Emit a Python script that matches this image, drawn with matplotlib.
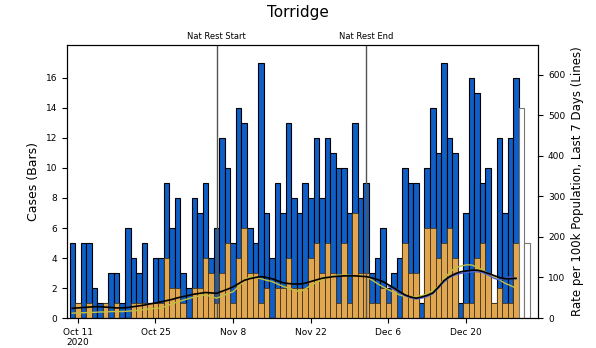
import matplotlib
matplotlib.use('Agg')
import matplotlib.pyplot as plt
import matplotlib.dates as mdates
import numpy as np
import datetime as dt

# daily cases, Oct 10 .. Dec 29 2020
cases = [5, 1, 5, 5, 2, 1, 1, 3, 3, 1, 6, 4, 3, 5, 1, 4, 4, 9, 6, 8, 3, 2,
         8, 7, 9, 4, 6, 12, 10, 5, 14, 13, 6, 5, 17, 7, 4, 9, 7, 13, 8, 7, 9, 8,
         12, 8, 12, 11, 10, 10, 7, 13,
         8, 9, 3, 4, 6, 2, 3, 4, 10, 9, 9, 1, 10, 14, 11, 17, 12, 11, 1, 7, 16,
         15, 9, 10, 1, 12, 7, 12, 16]
cases_other = [0, 1, 0, 1, 0, 0, 1, 0, 1, 0, 0, 1, 1, 1, 1, 1, 1, 4, 2, 2, 1, 0,
               2, 2, 4, 3, 1, 3, 5, 1, 4, 6, 3, 3, 1, 2, 0, 2, 2, 4, 2, 2, 2, 4,
               5, 3, 5, 3, 1, 5, 1, 7,
               3, 3, 1, 1, 2, 1, 2, 0, 5, 3, 3, 0, 6, 6, 4, 5, 6, 4, 0, 1, 1,
               4, 5, 3, 1, 2, 1, 1, 5]
# incomplete days, Dec 30 .. Dec 31
cases_incomplete = [14, 5]

rate = [24, 25, 26, 27, 28, 28, 27, 26, 25, 25, 26, 28, 30, 32, 35, 37, 40, 43,
        46, 50, 53, 56,
        59, 61, 63, 62, 61, 66, 71, 77, 85, 93, 97, 100, 102, 100, 97, 92, 87,
        85, 84, 84, 86, 90, 94, 98, 100, 102, 103, 104, 104, 104,
        103, 102, 99, 95, 90, 82, 74, 65, 57, 52, 49, 52, 56, 62, 76, 92, 102,
        109, 114, 116, 118, 118, 115, 110, 105, 100, 97, 97, 98]
rate_other = [12, 13, 13, 14, 14, 15, 15, 16, 16, 16, 17, 18, 19, 21, 23, 24, 25,
              30, 35, 40, 44, 48,
              52, 55, 57, 53, 49, 54, 60, 65, 78, 92, 102, 100, 97, 93, 90, 84,
              78, 74, 69, 65, 72, 80, 88, 94, 100, 104, 106, 106, 105, 104,
              103, 102, 94, 85, 77, 70, 63, 57, 53, 52, 53, 55, 60, 68, 77, 95,
              112, 123, 128, 131, 131, 125, 118, 110, 102, 94, 86, 80, 74]
# Dec 6 .. Dec 29
rate_blue = [78, 70, 62, 55, 50, 47, 49, 53, 60, 74, 89, 100, 106, 110, 112,
             114, 114, 112, 106, 98, 94, 98, 102, 96]

start = dt.date(2020, 10, 10)
days = [start + dt.timedelta(days=i) for i in range(len(cases))]
days_inc = [days[-1] + dt.timedelta(days=i + 1) for i in range(len(cases_incomplete))]
days_blue = [dt.date(2020, 12, 6) + dt.timedelta(days=i) for i in range(len(rate_blue))]

fig = plt.figure(figsize=(5.96, 3.48), dpi=100)
ax = fig.add_axes([0.112, 0.086, 0.791, 0.785])
ax2 = ax.twinx()

ax.bar(days, cases, width=1.0, color='#0f5fc6', edgecolor='black', linewidth=0.8)
ax.bar(days, cases_other, width=1.0, color='#e0a650', edgecolor='#3a2a10', linewidth=0.5)
ax.bar(days_inc, cases_incomplete, width=1.0, color='white', edgecolor='#777777', linewidth=0.8)

ax2.plot(days, rate_other, color='#c2c040', linewidth=1.0)
ax2.plot(days_blue, rate_blue, color='#4f63d0', linewidth=1.0)
ax2.plot(days, rate, color='black', linewidth=1.2)

for d, lab in [(dt.date(2020, 11, 5), 'Nat Rest Start'), (dt.date(2020, 12, 2), 'Nat Rest End')]:
    ax.axvline(d, color='#555555', linewidth=1.0)
    ax.text(d, 18.45, lab, ha='center', va='bottom', fontsize=6)

ax.set_xlim(dt.date(2020, 10, 9) + dt.timedelta(hours=2), dt.date(2021, 1, 2))
ax.set_ylim(0, 18.2)
ax2.set_ylim(0, 673)
ax.set_yticks(range(0, 17, 2))
ax2.set_yticks(range(0, 601, 100))

ticks = [dt.date(2020, 10, 11) + dt.timedelta(days=14 * i) for i in range(6)]
ax.set_xticks(ticks)
ax.set_xticklabels(['Oct 11\n2020'] + [t.strftime('%b %-d') for t in ticks[1:]])
for lbl in ax.get_xticklabels():
    lbl.set_horizontalalignment('center')
ax.tick_params(labelsize=6.5)
ax2.tick_params(labelsize=6.5)

ax.set_ylabel('Cases (Bars)', fontsize=9)
ax2.set_ylabel('Rate per 100k Population, Last 7 Days (Lines)', fontsize=8.5)
fig.suptitle('Torridge', fontsize=11, y=0.985)

fig.savefig('out.png', dpi=100)
